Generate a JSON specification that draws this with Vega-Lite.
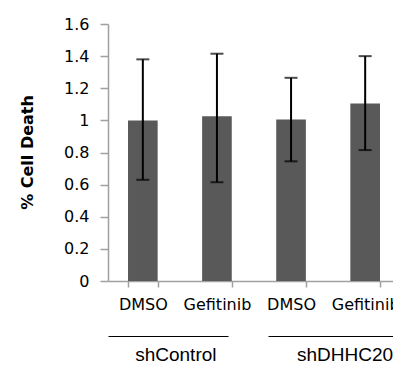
{
  "$schema": "https://vega.github.io/schema/vega-lite/v6.json",
  "width": 285,
  "height": 257,
  "autosize": "none",
  "padding": {"left": 108, "top": 24, "right": 0, "bottom": 84},
  "config": {
    "view": {"stroke": null},
    "font": "DejaVu Sans",
    "axisY": {
      "grid": false, "labelOverlap": false,
      "labelFont": "DejaVu Sans", "labelFontSize": 16, "labelColor": "black", "labelPadding": 11,
      "tickSize": 8, "tickColor": "#a0a0a0", "tickWidth": 1.5,
      "domainColor": "#a0a0a0", "domainWidth": 1.5,
      "titleFont": "DejaVu Sans", "titleFontWeight": "bold", "titleFontSize": 16, "titleColor": "black",
      "titleX": -81, "titleY": 128, "titleBaseline": "middle", "titleAngle": -90
    }
  },
  "data": {
    "values": [
      {"id": "shControl|DMSO", "group": "shControl", "treatment": "DMSO", "value": 1.0, "lo": 0.63, "hi": 1.38},
      {"id": "shControl|Gefitinib", "group": "shControl", "treatment": "Gefitinib", "value": 1.025, "lo": 0.615, "hi": 1.415},
      {"id": "shDHHC20|DMSO", "group": "shDHHC20", "treatment": "DMSO", "value": 1.005, "lo": 0.745, "hi": 1.265},
      {"id": "shDHHC20|Gefitinib", "group": "shDHHC20", "treatment": "Gefitinib", "value": 1.105, "lo": 0.815, "hi": 1.4}
    ]
  },
  "layer": [
    {
      "mark": {"type": "bar", "color": "#595959"},
      "encoding": {
        "x": {
          "field": "id", "type": "nominal", "sort": null,
          "scale": {"range": [0, 292], "paddingInner": 0.6, "paddingOuter": 0.27},
          "axis": {
            "title": null, "labelExpr": "split(datum.label,'|')[1]", "labelAngle": 0,
            "labelFont": "DejaVu Sans", "labelFontSize": 16, "labelColor": "black",
            "labelOverlap": false, "labelBound": false,
            "tickBand": "extent", "tickSize": 6, "tickColor": "#a0a0a0", "tickWidth": 1.5,
            "domainColor": "#a0a0a0", "domainWidth": 1.5, "labelPadding": 9
          }
        },
        "y": {
          "field": "value", "type": "quantitative", "scale": {"domain": [0, 1.6]},
          "title": "% Cell Death",
          "axis": {"values": [0, 0.2, 0.4, 0.6, 0.8, 1, 1.2, 1.4, 1.6], "format": "~g", "labelOverlap": false}
        }
      }
    },
    {
      "mark": {"type": "rule", "color": "black", "strokeWidth": 2},
      "encoding": {
        "x": {
          "field": "id", "type": "nominal", "sort": null,
          "axis": {
            "title": null, "orient": "bottom", "offset": 55,
            "values": ["shControl|DMSO", "shDHHC20|DMSO"],
            "labelExpr": "split(datum.label,'|')[0]",
            "labelOffset": {"condition": {"test": "datum.value == 'shControl|DMSO'", "value": 33}, "value": 54},
            "labelAngle": 0, "labelOverlap": false, "labelBound": false,
            "ticks": false, "domainColor": "black", "domainWidth": 1, "domainDash": [120, 40, 400],
            "labelFont": "Liberation Sans", "labelFontSize": 19, "labelColor": "black", "labelPadding": 9
          }
        },
        "y": {
          "field": "lo", "type": "quantitative", "title": "% Cell Death",
          "axis": {"values": [0, 0.2, 0.4, 0.6, 0.8, 1, 1.2, 1.4, 1.6], "format": "~g", "labelOverlap": false}
        },
        "y2": {"field": "hi"}
      }
    },
    {
      "mark": {"type": "tick", "color": "black", "thickness": 2, "size": 13},
      "encoding": {
        "x": {"field": "id", "type": "nominal", "sort": null, "axis": null},
        "y": {
          "field": "lo", "type": "quantitative", "title": "% Cell Death",
          "axis": {"values": [0, 0.2, 0.4, 0.6, 0.8, 1, 1.2, 1.4, 1.6], "format": "~g", "labelOverlap": false}
        }
      }
    },
    {
      "mark": {"type": "tick", "color": "black", "thickness": 2, "size": 13},
      "encoding": {
        "x": {"field": "id", "type": "nominal", "sort": null, "axis": null},
        "y": {
          "field": "hi", "type": "quantitative", "title": "% Cell Death",
          "axis": {"values": [0, 0.2, 0.4, 0.6, 0.8, 1, 1.2, 1.4, 1.6], "format": "~g", "labelOverlap": false}
        }
      }
    }
  ],
  "resolve": {"axis": {"x": "independent"}}
}
